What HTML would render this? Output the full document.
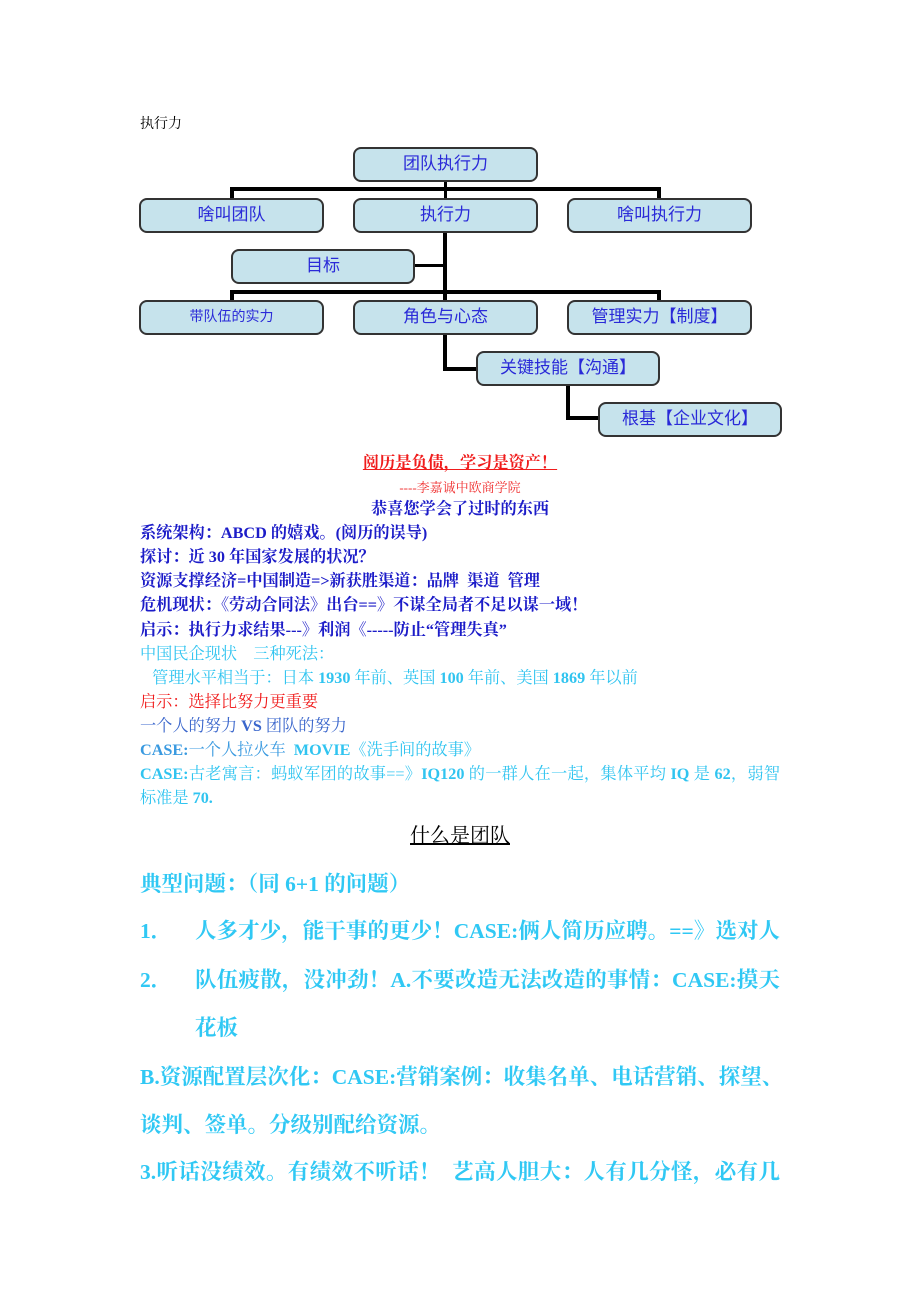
<!DOCTYPE html>
<html><head><meta charset="utf-8">
<style>
body{margin:0;background:#fff;}
#p{position:relative;width:920px;height:1302px;overflow:hidden;font-family:"Liberation Serif","Noto Serif CJK SC",serif;}
.b{position:absolute;background:#c6e3ec;border:2px solid #333;border-radius:8px;box-sizing:border-box;color:#2a2ad8;font-family:"Liberation Sans","Noto Sans CJK SC",sans-serif;font-size:17px;text-align:center;line-height:29px;}
.l{position:absolute;background:#000;}
.t{position:absolute;left:140px;white-space:nowrap;font-size:16.2px;line-height:20px;}
.db{color:#1c1cc8;font-weight:bold;}
.cy{color:#30c4f0;}
.big{position:absolute;left:140px;width:640px;font-size:21.5px;line-height:26px;font-weight:bold;color:#30c8f4;white-space:nowrap;}
.j{width:640px;text-align:justify;text-align-last:justify;}
</style></head><body><div id="p">
<div class="t" style="top:115px;font-size:14px;color:#000;">执行力</div>

<div class="l" style="left:444px;top:181px;width:3px;height:19px;"></div>
<div class="l" style="left:230px;top:187px;width:431px;height:4px;"></div>
<div class="l" style="left:230px;top:187px;width:4px;height:13px;"></div>
<div class="l" style="left:657px;top:187px;width:4px;height:13px;"></div>
<div class="l" style="left:443px;top:231px;width:4px;height:70px;"></div>
<div class="l" style="left:413px;top:264px;width:32px;height:3px;"></div>
<div class="l" style="left:230px;top:290px;width:431px;height:4px;"></div>
<div class="l" style="left:230px;top:290px;width:4px;height:11px;"></div>
<div class="l" style="left:657px;top:290px;width:4px;height:11px;"></div>
<div class="l" style="left:443px;top:333px;width:4px;height:38px;"></div>
<div class="l" style="left:443px;top:367px;width:36px;height:4px;"></div>
<div class="l" style="left:566px;top:384px;width:4px;height:36px;"></div>
<div class="l" style="left:566px;top:416px;width:35px;height:4px;"></div>

<div class="b" style="left:353px;top:147px;width:185px;height:35px;">团队执行力</div>
<div class="b" style="left:139px;top:198px;width:185px;height:35px;">啥叫团队</div>
<div class="b" style="left:353px;top:198px;width:185px;height:35px;">执行力</div>
<div class="b" style="left:567px;top:198px;width:185px;height:35px;">啥叫执行力</div>
<div class="b" style="left:231px;top:249px;width:184px;height:35px;">目标</div>
<div class="b" style="left:139px;top:300px;width:185px;height:35px;font-size:14px;">带队伍的实力</div>
<div class="b" style="left:353px;top:300px;width:185px;height:35px;">角色与心态</div>
<div class="b" style="left:567px;top:300px;width:185px;height:35px;">管理实力【制度】</div>
<div class="b" style="left:476px;top:351px;width:184px;height:35px;">关键技能【沟通】</div>
<div class="b" style="left:598px;top:402px;width:184px;height:35px;">根基【企业文化】</div>

<div class="t" style="left:0;width:920px;text-align:center;top:453px;color:#f01c1c;font-weight:bold;"><span style="text-decoration:underline;">阅历是负债，学习是资产！</span></div>
<div class="t" style="left:0;width:920px;text-align:center;top:478px;color:#f03030;font-size:13px;">----李嘉诚中欧商学院</div>
<div class="t db" style="left:0;width:920px;text-align:center;top:499px;">恭喜您学会了过时的东西</div>
<div class="t db" style="top:523px;">系统架构：ABCD 的嬉戏。(阅历的误导)</div>
<div class="t db" style="top:547px;">探讨：近 30 年国家发展的状况？</div>
<div class="t db" style="top:571px;">资源支撑经济=中国制造=&gt;新获胜渠道：品牌&nbsp; 渠道&nbsp; 管理</div>
<div class="t db" style="top:595px;">危机现状：《劳动合同法》出台==》不谋全局者不足以谋一域！</div>
<div class="t db" style="top:620px;">启示：执行力求结果---》利润《-----防止“管理失真”</div>
<div class="t cy" style="top:644px;">中国民企现状&nbsp;&nbsp;&nbsp; 三种死法：</div>
<div class="t cy" style="top:668px;">&nbsp;&nbsp; 管理水平相当于：日本 <b>1930</b> 年前、英国 <b>100</b> 年前、美国 <b>1869</b> 年以前</div>
<div class="t" style="top:692px;color:#f01c1c;">启示：选择比努力更重要</div>
<div class="t" style="top:716px;color:#3a66cc;">一个人的努力 <b>VS</b> 团队的努力</div>
<div class="t" style="top:740px;color:#3a9ae0;"><b>CASE:</b>一个人拉火车&nbsp; <b style="color:#30c4f0;">MOVIE</b><span style="color:#30c4f0;">《洗手间的故事》</span></div>
<div class="t cy j" style="top:764px;"><b>CASE:</b>古老寓言：蚂蚁军团的故事==》<b>IQ120</b> 的一群人在一起，集体平均 <b>IQ</b> 是 <b>62</b>，弱智</div>
<div class="t cy" style="top:788px;">标准是 <b>70.</b></div>

<div class="t" style="left:0;width:920px;text-align:center;top:824px;font-size:20px;line-height:24px;color:#000;"><span style="text-decoration:underline;">什么是团队</span></div>
<div class="big" style="top:871px;">典型问题：（同 6+1 的问题）</div>
<div class="big" style="top:918px;">1．<span class="j" style="position:absolute;left:55px;width:585px;">人多才少，能干事的更少！CASE:俩人简历应聘。==》选对人</span></div>
<div class="big" style="top:967px;">2．<span class="j" style="position:absolute;left:55px;width:585px;">队伍疲散，没冲劲！A.不要改造无法改造的事情：CASE:摸天</span></div>
<div class="big" style="top:1015px;"><span style="position:absolute;left:55px;">花板</span></div>
<div class="big j" style="top:1064px;">B.资源配置层次化：CASE:营销案例：收集名单、电话营销、探望、</div>
<div class="big" style="top:1112px;">谈判、签单。分级别配给资源。</div>
<div class="big j" style="top:1159px;">3.听话没绩效。有绩效不听话！&nbsp; 艺高人胆大：人有几分怪，必有几</div>
</div></body></html>
